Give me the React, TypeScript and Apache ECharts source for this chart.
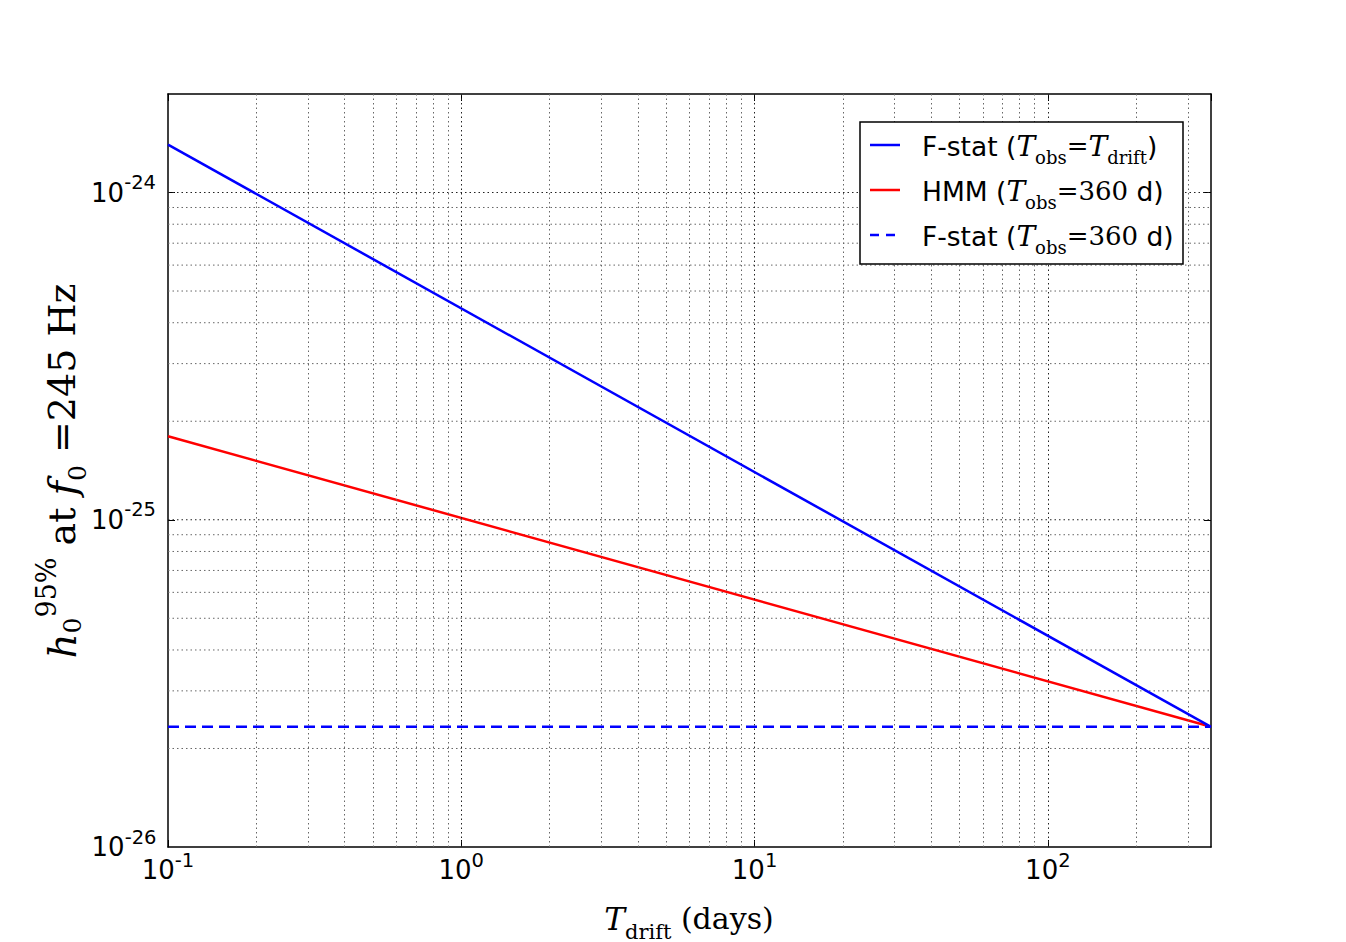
import React, { useEffect, useRef } from "react";
import * as echarts from "echarts";

// ---- data ----
const tDrift = [0.1, 360];
const fstatDrift = [1.4e-24, 2.33e-26];
const hmm360 = [1.8e-25, 2.33e-26];
const fstat360 = [2.33e-26, 2.33e-26];

const xMin = 0.1;
const xMax = 360;
const yMin = 1e-26;
const yMax = 2e-24;

const xMajorGrid = [1, 10, 100];
const xMinorGrid = [
  0.2, 0.3, 0.4, 0.5, 0.6, 0.7, 0.8, 0.9,
  2, 3, 4, 5, 6, 7, 8, 9,
  20, 30, 40, 50, 60, 70, 80, 90,
  200, 300,
];
const yMajorGrid = [1e-25, 1e-24];
const yMinorGrid = [
  2e-26, 3e-26, 4e-26, 5e-26, 6e-26, 7e-26, 8e-26, 9e-26,
  2e-25, 3e-25, 4e-25, 5e-25, 6e-25, 7e-25, 8e-25, 9e-25,
];

const legendRows = [
  "{n|F-stat (}{m|T}{sub|obs}{e|=}{m|T}{sub|drift}{n|)}",
  "{n|HMM (}{m|T}{sub|obs}{e|=360}{n| d)}",
  "{n|F-stat (}{m|T}{sub|obs}{e|=360}{n| d)}",
];

const SANS = "'DejaVu Sans', sans-serif";
const SERIF = "'DejaVu Serif', serif";

const tickRich = {
  b: { fontFamily: SANS, fontSize: 26, color: "#000", opacity: 1 },
  s: { fontFamily: SANS, fontSize: 19.5, color: "#000", opacity: 1, padding: [0, 0, 20, 0] },
};

const expLabel = (v: number) => {
  const e = Math.round(Math.log10(v));
  return `{b|10}{s|${e}}`;
};

const minorLine = { type: [1.5, 3] as any, color: "#666", width: 1 };
const majorLine = { type: [1.5, 3] as any, color: "#222", width: 1 };

function gridLineSeries(v: number, style: any) {
  return {
    type: "line",
    name: "hgrid",
    xAxisIndex: 0,
    yAxisIndex: 0,
    z: 1,
    silent: true,
    symbol: "none",
    data: [
      [xMin, v],
      [xMax, v],
    ],
    lineStyle: style,
    emphasis: { disabled: true },
    tooltip: { show: false },
  };
}

function buildOption() {
  const vMarks: any[] = [];
  xMinorGrid.forEach((v) => vMarks.push({ xAxis: v, lineStyle: minorLine }));
  xMajorGrid.forEach((v) => vMarks.push({ xAxis: v, lineStyle: majorLine }));

  const hSeries = [
    ...yMinorGrid.map((v) => gridLineSeries(v, minorLine)),
    ...yMajorGrid.map((v) => gridLineSeries(v, majorLine)),
  ];

  const axisCommon = {
    type: "log" as const,
    logBase: 10,
    axisLine: { show: true, onZero: false, lineStyle: { color: "#000", width: 1.5 } },
    axisTick: { show: true, inside: true, length: 7, lineStyle: { color: "#000", width: 1 } },
    splitLine: { show: false },
    minorTick: { show: false },
    minorSplitLine: { show: false },
  };

  return {
    animation: false,
    backgroundColor: "#fff",
    grid: {
      left: 168,
      top: 94,
      right: 135,
      bottom: 95,
      show: false,
      containLabel: false,
      outerBoundsMode: "none",
    },
    xAxis: [
      {
        ...axisCommon,
        position: "bottom",
        min: xMin,
        max: xMax,
        axisLabel: {
          show: true,
          margin: 3,
          showMinLabel: true,
          showMaxLabel: false,
          formatter: expLabel,
          rich: tickRich,
        },
      },
      {
        ...axisCommon,
        position: "top",
        min: xMin,
        max: xMax,
        axisLabel: { show: false },
      },
    ],
    yAxis: [
      {
        ...axisCommon,
        position: "left",
        min: yMin,
        max: yMax,
        axisLabel: {
          show: true,
          margin: 12,
          showMinLabel: false,
          showMaxLabel: false,
          formatter: expLabel,
          rich: tickRich,
        },
      },
      {
        ...axisCommon,
        position: "right",
        min: yMin,
        max: yMax,
        axisLabel: { show: false },
      },
    ],
    series: [
      {
        type: "line",
        name: "vgrid",
        xAxisIndex: 0,
        yAxisIndex: 0,
        z: 1,
        silent: true,
        symbol: "none",
        data: [[xMin, yMin]],
        lineStyle: { opacity: 0 },
        markLine: {
          silent: true,
          symbol: ["none", "none"],
          label: { show: false },
          emphasis: { disabled: true },
          animation: false,
          data: vMarks,
        },
      },
      ...hSeries,
      // label of the lowest y tick (10^-26), placed at the axis corner by the scale
      {
        type: "scatter",
        name: "yMinLabel",
        xAxisIndex: 0,
        yAxisIndex: 0,
        z: 2,
        silent: true,
        clip: false,
        symbol: "circle",
        symbolSize: 1,
        data: [[xMin, yMin]],
        itemStyle: { color: "rgba(0,0,0,0)" },
        labelLayout: { hideOverlap: false },
        label: {
          show: true,
          position: "left",
          distance: 11,
          color: "#000",
          formatter: () => expLabel(yMin),
          rich: tickRich,
        },
      },
      {
        type: "line",
        name: "F-stat (T_obs = T_drift)",
        xAxisIndex: 0,
        yAxisIndex: 0,
        z: 5,
        symbol: "none",
        data: tDrift.map((t, i) => [t, fstatDrift[i]]),
        lineStyle: { color: "#0000ff", width: 2.5 },
      },
      {
        type: "line",
        name: "HMM (T_obs = 360 d)",
        xAxisIndex: 0,
        yAxisIndex: 0,
        z: 4,
        symbol: "none",
        data: tDrift.map((t, i) => [t, hmm360[i]]),
        lineStyle: { color: "#ff0000", width: 2.5 },
      },
      {
        type: "line",
        name: "F-stat (T_obs = 360 d)",
        xAxisIndex: 0,
        yAxisIndex: 0,
        z: 6,
        symbol: "none",
        data: tDrift.map((t, i) => [t, fstat360[i]]),
        lineStyle: { color: "#0000ff", width: 2.5, type: [11, 6] },
      },
    ],
    graphic: [
      // y axis title
      {
        type: "text",
        x: 62,
        y: 471,
        rotation: Math.PI / 2,
        style: {
          text: "{i|h}{s0|0}{sup|95%}{r| at }{i|f}{s1|0}{r| =245 Hz}",
          align: "center",
          verticalAlign: "middle",
          textAlign: "center",
          textVerticalAlign: "middle",
          fill: "#000",
          rich: {
            i: { fontFamily: SERIF, fontStyle: "italic", fontSize: 39, color: "#000" },
            r: { fontFamily: SERIF, fontSize: 38, color: "#000" },
            s0: { fontFamily: SERIF, fontSize: 25, color: "#000", padding: [20, 0, 0, 0] },
            s1: { fontFamily: SERIF, fontSize: 25, color: "#000", padding: [30, 0, 0, 0] },
            sup: { fontFamily: SERIF, fontSize: 27, color: "#000", padding: [0, 0, 32, 0] },
          },
        },
      },
      // x axis title
      {
        type: "text",
        x: 689,
        y: 942,
        style: {
          text: "{i|T}{s|drift}{r| (days)}",
          align: "center",
          verticalAlign: "bottom",
          textAlign: "center",
          textVerticalAlign: "bottom",
          fill: "#000",
          rich: {
            i: { fontFamily: SERIF, fontStyle: "italic", fontSize: 31, color: "#000" },
            r: { fontFamily: SERIF, fontSize: 30, color: "#000" },
            s: { fontFamily: SERIF, fontSize: 21, color: "#000", padding: [26, 0, 0, 0] },
          },
        },
      },
      // legend
      {
        type: "rect",
        z: 10,
        shape: { x: 860, y: 122, width: 323, height: 142 },
        style: { fill: "#fff", stroke: "#000", lineWidth: 1.5 },
      },
      {
        type: "line",
        z: 11,
        shape: { x1: 870, y1: 145, x2: 900, y2: 145 },
        style: { stroke: "#0000ff", lineWidth: 2.5 },
      },
      {
        type: "line",
        z: 11,
        shape: { x1: 870, y1: 190, x2: 900, y2: 190 },
        style: { stroke: "#ff0000", lineWidth: 2.5 },
      },
      {
        type: "line",
        z: 11,
        shape: { x1: 870, y1: 235, x2: 900, y2: 235 },
        style: { stroke: "#0000ff", lineWidth: 2.5, lineDash: [9, 7] },
      },
      ...legendRows.map((t, i) => ({
        type: "text",
        z: 11,
        x: 922,
        y: 146 + i * 45,
        style: {
          text: t,
          align: "left",
          verticalAlign: "middle",
          textAlign: "left",
          textVerticalAlign: "middle",
          fill: "#000",
          rich: {
            n: { fontFamily: SANS, fontSize: 26.5, color: "#000" },
            m: { fontFamily: SERIF, fontStyle: "italic", fontSize: 28, color: "#000" },
            e: { fontFamily: SERIF, fontSize: 26, color: "#000" },
            sub: { fontFamily: SERIF, fontSize: 18, color: "#000", padding: [22, 0, 0, 0] },
          },
        },
      })),
    ],
  };
}

export default function App() {
  const ref = useRef<HTMLDivElement>(null);
  useEffect(() => {
    document.body.style.margin = "0";
    const chart = echarts.init(ref.current as HTMLDivElement, null, { renderer: "svg" });
    chart.setOption(buildOption() as any);
    return () => chart.dispose();
  }, []);
  return <div ref={ref} style={{ width: 1346, height: 942 }} />;
}
